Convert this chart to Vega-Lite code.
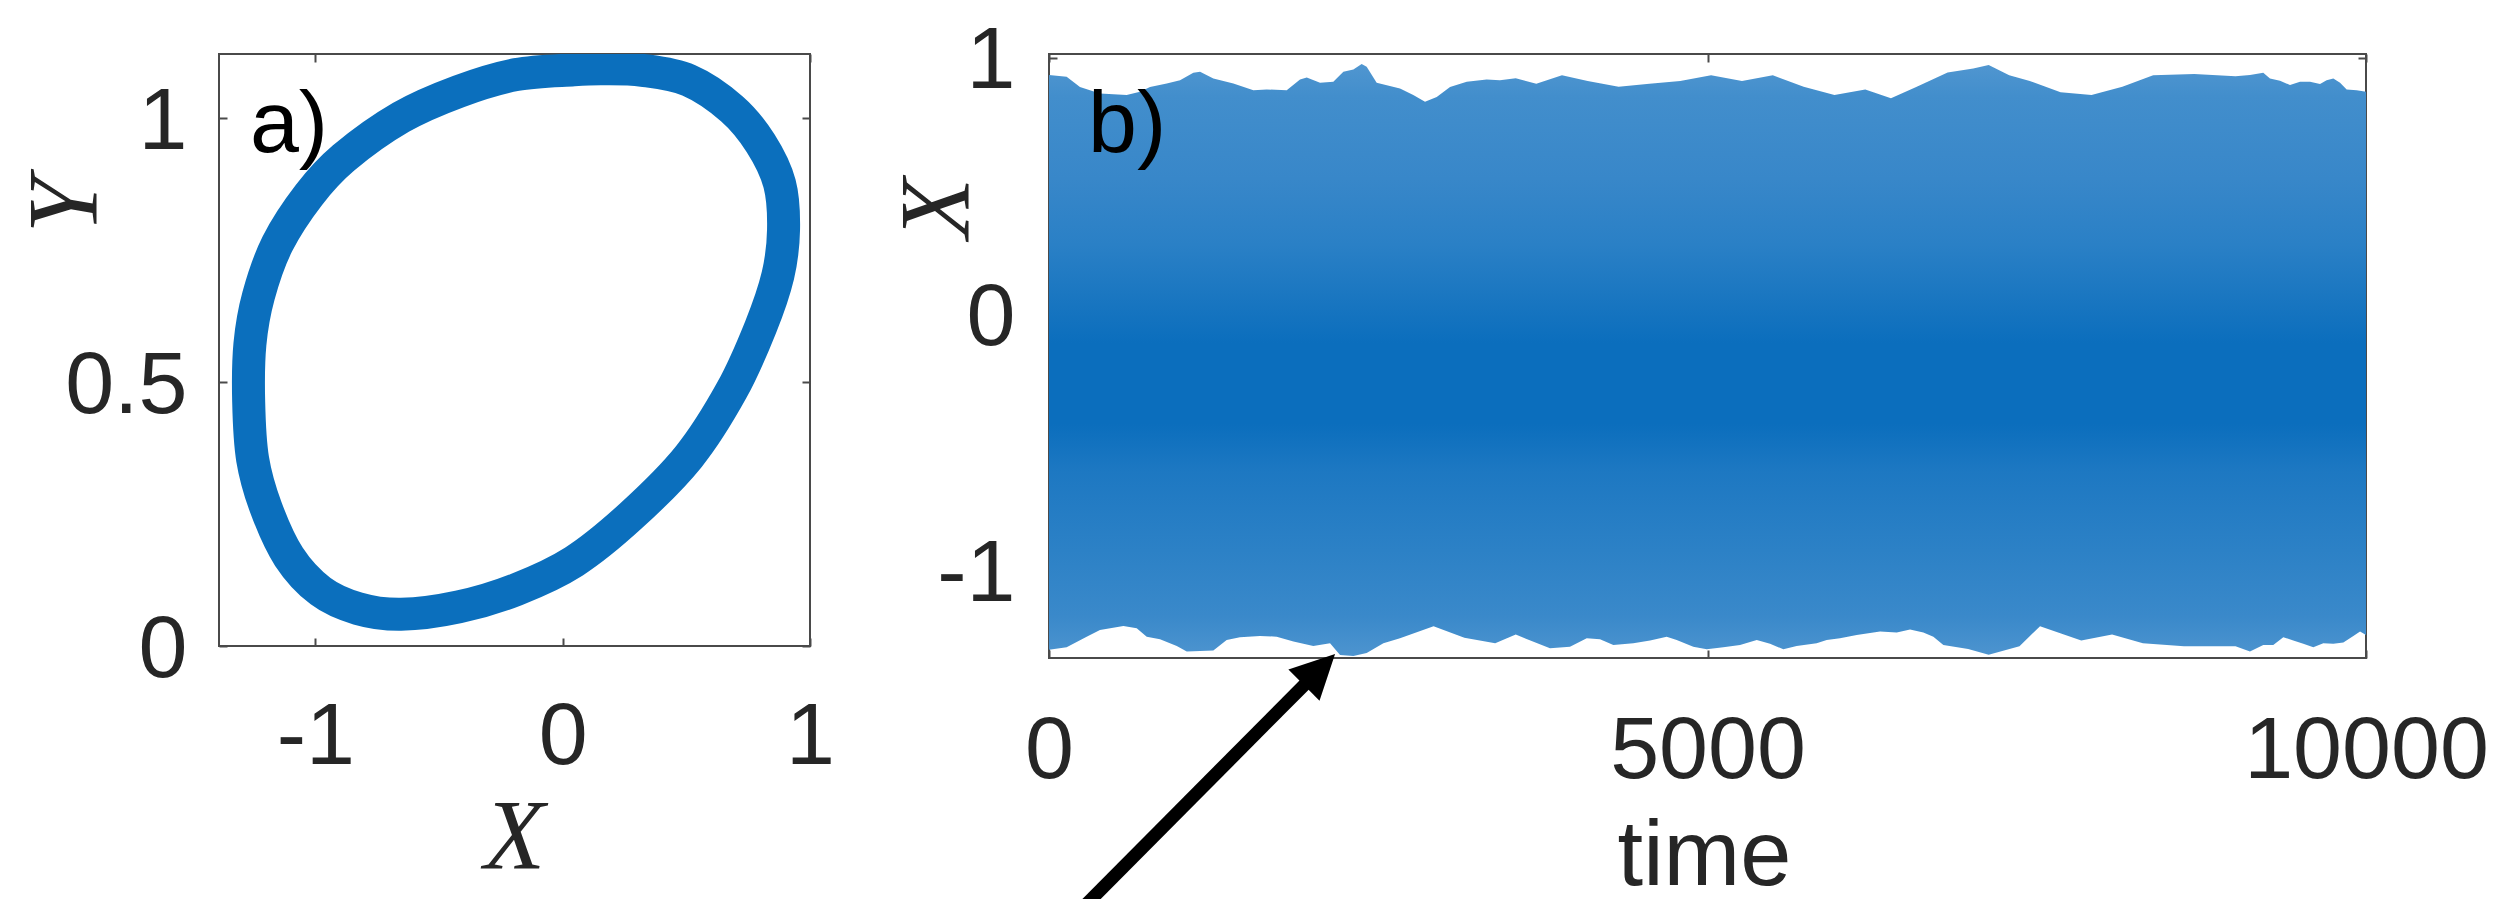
{
  "$schema": "https://vega.github.io/schema/vega-lite/v6.json",
  "autosize": {"type": "none"},
  "padding": {"left": 219, "top": 54, "right": 2292, "bottom": 845},
  "background": "white",
  "bounds": "flush",
  "spacing": 239,
  "config": {
    "view": {"stroke": "#4a4a4a", "strokeWidth": 2},
    "font": "Liberation Sans",
    "axis": {
      "grid": false,
      "domain": false,
      "tickSize": -8,
      "tickWidth": 2,
      "tickColor": "#4a4a4a",
      "labelFont": "Liberation Sans",
      "labelFontSize": 88,
      "labelColor": "#262626",
      "labelFlush": false,
      "labelOverlap": false,
      "labelLimit": 2000,
      "labelExpr": "'' + datum.value",
      "titleColor": "#262626",
      "titleFontWeight": "normal"
    }
  },
  "datasets": {
    "loop": [
      {"i": 0, "X": 0.161, "Y": 1.094}, {"i": 1, "X": 0.045, "Y": 1.092}, {"i": 2, "X": -0.188, "Y": 1.083},
      {"i": 3, "X": -0.421, "Y": 1.051}, {"i": 4, "X": -0.654, "Y": 1.002}, {"i": 5, "X": -0.886, "Y": 0.925},
      {"i": 6, "X": -1.026, "Y": 0.855}, {"i": 7, "X": -1.154, "Y": 0.762}, {"i": 8, "X": -1.23, "Y": 0.664},
      {"i": 9, "X": -1.265, "Y": 0.572}, {"i": 10, "X": -1.27, "Y": 0.463}, {"i": 11, "X": -1.254, "Y": 0.354},
      {"i": 12, "X": -1.2, "Y": 0.262}, {"i": 13, "X": -1.107, "Y": 0.169}, {"i": 14, "X": -0.979, "Y": 0.104},
      {"i": 15, "X": -0.828, "Y": 0.071}, {"i": 16, "X": -0.654, "Y": 0.06}, {"i": 17, "X": -0.421, "Y": 0.074},
      {"i": 18, "X": -0.188, "Y": 0.107}, {"i": 19, "X": 0.045, "Y": 0.16}, {"i": 20, "X": 0.277, "Y": 0.247},
      {"i": 21, "X": 0.51, "Y": 0.359}, {"i": 22, "X": 0.684, "Y": 0.485}, {"i": 23, "X": 0.8, "Y": 0.604},
      {"i": 24, "X": 0.87, "Y": 0.702}, {"i": 25, "X": 0.893, "Y": 0.789}, {"i": 26, "X": 0.877, "Y": 0.876},
      {"i": 27, "X": 0.8, "Y": 0.953}, {"i": 28, "X": 0.684, "Y": 1.018}, {"i": 29, "X": 0.51, "Y": 1.072},
      {"i": 30, "X": 0.323, "Y": 1.091}
    ],
    "upper": [
      {"t": 0, "hi": 0.934}, {"t": 134, "hi": 0.927}, {"t": 235, "hi": 0.888}, {"t": 387, "hi": 0.862},
      {"t": 590, "hi": 0.856}, {"t": 691, "hi": 0.869}, {"t": 767, "hi": 0.888}, {"t": 894, "hi": 0.901},
      {"t": 995, "hi": 0.914}, {"t": 1096, "hi": 0.943}, {"t": 1147, "hi": 0.947}, {"t": 1248, "hi": 0.921},
      {"t": 1400, "hi": 0.901}, {"t": 1552, "hi": 0.875}, {"t": 1653, "hi": 0.878}, {"t": 1805, "hi": 0.875},
      {"t": 1906, "hi": 0.917}, {"t": 1957, "hi": 0.925}, {"t": 2058, "hi": 0.904}, {"t": 2159, "hi": 0.908},
      {"t": 2235, "hi": 0.947}, {"t": 2311, "hi": 0.956}, {"t": 2374, "hi": 0.977}, {"t": 2412, "hi": 0.966},
      {"t": 2488, "hi": 0.904}, {"t": 2665, "hi": 0.882}, {"t": 2766, "hi": 0.856}, {"t": 2855, "hi": 0.83},
      {"t": 2944, "hi": 0.849}, {"t": 3045, "hi": 0.888}, {"t": 3172, "hi": 0.908}, {"t": 3323, "hi": 0.917},
      {"t": 3424, "hi": 0.914}, {"t": 3544, "hi": 0.922}, {"t": 3700, "hi": 0.9}, {"t": 3895, "hi": 0.933},
      {"t": 4090, "hi": 0.911}, {"t": 4325, "hi": 0.889}, {"t": 4559, "hi": 0.9}, {"t": 4793, "hi": 0.911},
      {"t": 5027, "hi": 0.933}, {"t": 5262, "hi": 0.911}, {"t": 5496, "hi": 0.933}, {"t": 5730, "hi": 0.889},
      {"t": 5964, "hi": 0.856}, {"t": 6198, "hi": 0.878}, {"t": 6393, "hi": 0.844}, {"t": 6589, "hi": 0.889},
      {"t": 6823, "hi": 0.944}, {"t": 7018, "hi": 0.96}, {"t": 7135, "hi": 0.973}, {"t": 7291, "hi": 0.933},
      {"t": 7447, "hi": 0.911}, {"t": 7681, "hi": 0.867}, {"t": 7916, "hi": 0.856}, {"t": 8150, "hi": 0.889},
      {"t": 8384, "hi": 0.933}, {"t": 8696, "hi": 0.938}, {"t": 9009, "hi": 0.929}, {"t": 9119, "hi": 0.934},
      {"t": 9220, "hi": 0.943}, {"t": 9271, "hi": 0.921}, {"t": 9347, "hi": 0.912}, {"t": 9423, "hi": 0.895},
      {"t": 9499, "hi": 0.908}, {"t": 9575, "hi": 0.908}, {"t": 9651, "hi": 0.899}, {"t": 9701, "hi": 0.914},
      {"t": 9752, "hi": 0.921}, {"t": 9803, "hi": 0.904}, {"t": 9853, "hi": 0.878}, {"t": 9929, "hi": 0.875},
      {"t": 10000, "hi": 0.869}
    ],
    "lower": [
      {"t": 0, "lo": -1.303}, {"t": 134, "lo": -1.293}, {"t": 286, "lo": -1.252}, {"t": 387, "lo": -1.226},
      {"t": 565, "lo": -1.21}, {"t": 666, "lo": -1.219}, {"t": 742, "lo": -1.252}, {"t": 843, "lo": -1.262},
      {"t": 970, "lo": -1.288}, {"t": 1046, "lo": -1.31}, {"t": 1248, "lo": -1.306}, {"t": 1349, "lo": -1.265},
      {"t": 1450, "lo": -1.254}, {"t": 1602, "lo": -1.249}, {"t": 1729, "lo": -1.252}, {"t": 1856, "lo": -1.271},
      {"t": 2007, "lo": -1.288}, {"t": 2134, "lo": -1.278}, {"t": 2210, "lo": -1.323}, {"t": 2311, "lo": -1.327},
      {"t": 2412, "lo": -1.316}, {"t": 2539, "lo": -1.278}, {"t": 2665, "lo": -1.258}, {"t": 2920, "lo": -1.211},
      {"t": 3154, "lo": -1.256}, {"t": 3388, "lo": -1.278}, {"t": 3544, "lo": -1.244}, {"t": 3804, "lo": -1.297},
      {"t": 3956, "lo": -1.291}, {"t": 4083, "lo": -1.258}, {"t": 4184, "lo": -1.262}, {"t": 4285, "lo": -1.284},
      {"t": 4437, "lo": -1.278}, {"t": 4564, "lo": -1.267}, {"t": 4690, "lo": -1.252}, {"t": 4766, "lo": -1.265},
      {"t": 4892, "lo": -1.291}, {"t": 4994, "lo": -1.301}, {"t": 5120, "lo": -1.293}, {"t": 5247, "lo": -1.284},
      {"t": 5374, "lo": -1.265}, {"t": 5475, "lo": -1.28}, {"t": 5576, "lo": -1.301}, {"t": 5677, "lo": -1.288},
      {"t": 5829, "lo": -1.278}, {"t": 5905, "lo": -1.265}, {"t": 6006, "lo": -1.258}, {"t": 6133, "lo": -1.245},
      {"t": 6310, "lo": -1.232}, {"t": 6437, "lo": -1.236}, {"t": 6538, "lo": -1.224}, {"t": 6639, "lo": -1.236},
      {"t": 6715, "lo": -1.252}, {"t": 6791, "lo": -1.284}, {"t": 6979, "lo": -1.3}, {"t": 7135, "lo": -1.322},
      {"t": 7369, "lo": -1.289}, {"t": 7525, "lo": -1.211}, {"t": 7838, "lo": -1.267}, {"t": 8072, "lo": -1.244},
      {"t": 8306, "lo": -1.278}, {"t": 8618, "lo": -1.289}, {"t": 9009, "lo": -1.289}, {"t": 9119, "lo": -1.31},
      {"t": 9220, "lo": -1.284}, {"t": 9296, "lo": -1.284}, {"t": 9372, "lo": -1.254}, {"t": 9448, "lo": -1.267},
      {"t": 9524, "lo": -1.28}, {"t": 9600, "lo": -1.293}, {"t": 9676, "lo": -1.278}, {"t": 9752, "lo": -1.28},
      {"t": 9828, "lo": -1.275}, {"t": 9904, "lo": -1.249}, {"t": 9955, "lo": -1.232}, {"t": 10000, "lo": -1.245}
    ],
    "arrow": [{"t": 203, "X": -2.335, "t2": 2054, "X2": -1.38}]
  },
  "hconcat": [
    {
      "width": 591,
      "height": 592,
      "resolve": {"axis": {"x": "independent", "y": "independent"}},
      "layer": [
        {
          "data": {"name": "loop"},
          "mark": {"type": "line", "interpolate": "cardinal-closed", "strokeWidth": 33, "color": "#0b6fbd", "clip": true},
          "encoding": {
            "x": {"field": "X", "type": "quantitative",
              "scale": {"domain": [-1.39, 1.0], "nice": false, "zero": false},
              "axis": {"values": [-1, 0, 1], "title": "X", "labelBaseline": "alphabetic", "labelPadding": 125,
                "titleFont": "Liberation Serif", "titleFontStyle": "italic", "titleFontSize": 100,
                "titleBaseline": "alphabetic", "titleX": 295, "titleY": 221}},
            "y": {"field": "Y", "type": "quantitative",
              "scale": {"domain": [0, 1.122], "nice": false, "zero": false},
              "axis": {"values": [0, 0.5, 1], "title": "Y", "labelBaseline": "middle", "labelPadding": 40, "labelOffset": 4,
                "titleFont": "Liberation Serif", "titleFontStyle": "italic", "titleFontSize": 100,
                "titleBaseline": "alphabetic", "titleX": -124, "titleY": 151, "titleAngle": -90}},
            "order": {"field": "i", "type": "quantitative"}
          }
        },
        {
          "data": {"values": [{"X": -1.265, "Y": 0.937, "label": "a)"}]},
          "mark": {"type": "text", "align": "left", "baseline": "alphabetic", "fontSize": 88, "font": "Liberation Sans", "color": "#000000"},
          "encoding": {
            "x": {"field": "X", "type": "quantitative",
              "axis": {"orient": "top", "values": [-1, 0, 1], "labels": false, "title": null}},
            "y": {"field": "Y", "type": "quantitative",
              "axis": {"orient": "right", "values": [0, 0.5, 1], "labels": false, "title": null}},
            "text": {"field": "label"}
          }
        }
      ]
    },
    {
      "width": 1317,
      "height": 604,
      "resolve": {"axis": {"x": "independent", "y": "independent"}},
      "layer": [
        {
          "data": {"name": "upper"},
          "mark": {"type": "area", "opacity": 1,
            "color": {"gradient": "linear", "x1": 0, "y1": 0, "x2": 0, "y2": 1, "stops": [
              {"offset": 0, "color": "#5096d0"},
              {"offset": 0.1, "color": "#428ecc"},
              {"offset": 0.35, "color": "#3887c9"},
              {"offset": 0.55, "color": "#2a80c6"},
              {"offset": 0.7, "color": "#1b77c1"},
              {"offset": 0.85, "color": "#0b6ebd"},
              {"offset": 1, "color": "#0b6ebd"}
            ]}},
          "encoding": {
            "x": {"field": "t", "type": "quantitative",
              "scale": {"domain": [0, 10000], "nice": false, "zero": false},
              "axis": {"values": [0, 5000, 10000], "title": "time", "labelBaseline": "alphabetic", "labelPadding": 127,
                "titleFont": "Liberation Sans", "titleFontSize": 92, "titleBaseline": "alphabetic", "titleX": 655, "titleY": 226}},
            "y": {"field": "hi", "type": "quantitative",
              "scale": {"domain": [-1.335, 1.016], "nice": false, "zero": false},
              "axis": {"values": [-1, 0, 1], "title": "X", "labelBaseline": "middle", "labelPadding": 42, "labelOffset": 3,
                "titleFont": "Liberation Serif", "titleFontStyle": "italic", "titleFontSize": 100,
                "titleBaseline": "alphabetic", "titleX": -82, "titleY": 154, "titleAngle": -90}},
            "y2": {"datum": -0.3}
          }
        },
        {
          "data": {"name": "lower"},
          "mark": {"type": "area", "opacity": 1,
            "color": {"gradient": "linear", "x1": 0, "y1": 0, "x2": 0, "y2": 1, "stops": [
              {"offset": 0, "color": "#0b6ebd"},
              {"offset": 0.12, "color": "#0b6ebd"},
              {"offset": 0.3, "color": "#1d78c2"},
              {"offset": 0.6, "color": "#2c81c6"},
              {"offset": 0.85, "color": "#3a89ca"},
              {"offset": 1, "color": "#4d94cf"}
            ]}},
          "encoding": {
            "x": {"field": "t", "type": "quantitative", "axis": {"orient": "top", "values": [0, 5000, 10000], "labels": false, "title": null}},
            "y": {"field": "lo", "type": "quantitative", "axis": {"orient": "right", "values": [-1, 0, 1], "labels": false, "title": null}},
            "y2": {"datum": -0.3}
          }
        },
        {
          "data": {"values": [{"t": 296, "X": 0.634, "label": "b)"}]},
          "mark": {"type": "text", "align": "left", "baseline": "alphabetic", "fontSize": 88, "font": "Liberation Sans", "color": "#000000"},
          "encoding": {
            "x": {"field": "t", "type": "quantitative", "axis": null},
            "y": {"field": "X", "type": "quantitative", "axis": null},
            "text": {"field": "label"}
          }
        },
        {
          "data": {"name": "arrow"},
          "mark": {"type": "rule", "color": "#000000", "strokeWidth": 13},
          "encoding": {
            "x": {"field": "t", "type": "quantitative", "axis": null},
            "y": {"field": "X", "type": "quantitative", "axis": null},
            "x2": {"field": "t2"},
            "y2": {"field": "X2"}
          }
        },
        {
          "data": {"name": "arrow"},
          "mark": {"type": "point", "shape": "M0,-1L1,1L-1,1Z", "filled": true, "size": 1936, "angle": 45, "color": "#000000", "opacity": 1, "strokeWidth": 0},
          "encoding": {
            "x": {"field": "t2", "type": "quantitative", "axis": null},
            "y": {"field": "X2", "type": "quantitative", "axis": null}
          }
        }
      ]
    }
  ]
}
